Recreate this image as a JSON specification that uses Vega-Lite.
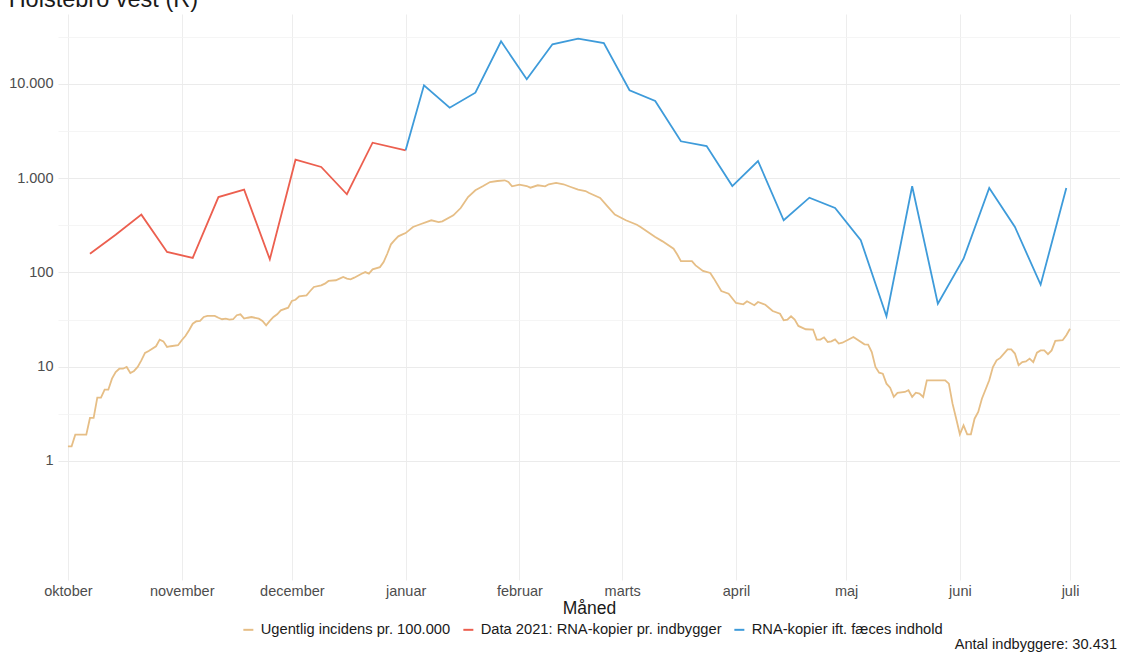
{
  "$schema": "https://vega.github.io/schema/vega-lite/v6.json",
  "autosize": {"type": "pad"},
  "padding": {"left": 8, "top": -13, "right": 0, "bottom": 0},
  "background": "white",
  "title": {"text": "Holstebro vest (R)", "anchor": "start", "frame": "bounds", "fontSize": 23.5, "font": "Liberation Sans", "fontWeight": "normal", "color": "#1A1A1A", "offset": 3},
  "config": {
    "font": "Liberation Sans",
    "view": {"stroke": null},
    "axis": {"domain": false, "ticks": false, "tickSize": 0, "labelFont": "Liberation Sans", "labelFontSize": 14.5, "labelColor": "#4D4D4D", "gridColor": "#EDEDED", "gridWidth": 1}
  },
  "datasets": {
    "inc": [
      {"d":"2021-10-01","v":1.43},{"d":"2021-10-02","v":1.43},{"d":"2021-10-03","v":1.9},{"d":"2021-10-06","v":1.9},{"d":"2021-10-07","v":2.86},{"d":"2021-10-08","v":2.86},{"d":"2021-10-09","v":4.7},{"d":"2021-10-10","v":4.7},{"d":"2021-10-11","v":5.71},{"d":"2021-10-12","v":5.71},{"d":"2021-10-13","v":7.47},{"d":"2021-10-14","v":8.8},{"d":"2021-10-15","v":9.53},{"d":"2021-10-16","v":9.53},{"d":"2021-10-17","v":9.94},{"d":"2021-10-18","v":8.58},{"d":"2021-10-19","v":9.02},{"d":"2021-10-20","v":9.94},{"d":"2021-10-21","v":11.7},{"d":"2021-10-22","v":14.0},{"d":"2021-10-23","v":14.7},{"d":"2021-10-25","v":16.5},{"d":"2021-10-26","v":19.4},{"d":"2021-10-27","v":18.6},{"d":"2021-10-28","v":16.2},{"d":"2021-10-29","v":16.5},{"d":"2021-10-31","v":16.9},
      {"d":"2021-11-01","v":19.1},{"d":"2021-11-02","v":21.2},{"d":"2021-11-03","v":24.4},{"d":"2021-11-04","v":28.6},{"d":"2021-11-05","v":30.4},{"d":"2021-11-06","v":30.6},{"d":"2021-11-07","v":33.7},{"d":"2021-11-08","v":34.6},{"d":"2021-11-10","v":34.6},{"d":"2021-11-11","v":33.1},{"d":"2021-11-12","v":31.9},{"d":"2021-11-13","v":32.4},{"d":"2021-11-14","v":31.6},{"d":"2021-11-15","v":31.9},{"d":"2021-11-16","v":35.2},{"d":"2021-11-17","v":36.0},{"d":"2021-11-18","v":32.4},{"d":"2021-11-19","v":33.1},{"d":"2021-11-20","v":33.7},{"d":"2021-11-22","v":32.4},{"d":"2021-11-23","v":30.6},{"d":"2021-11-24","v":27.5},{"d":"2021-11-25","v":30.6},{"d":"2021-11-26","v":33.7},{"d":"2021-11-27","v":36.0},{"d":"2021-11-28","v":39.7},{"d":"2021-11-30","v":42.3},
      {"d":"2021-12-01","v":49.9},{"d":"2021-12-02","v":51.4},{"d":"2021-12-03","v":55.9},{"d":"2021-12-05","v":57.3},{"d":"2021-12-06","v":63.6},{"d":"2021-12-07","v":70.2},{"d":"2021-12-09","v":73.1},{"d":"2021-12-10","v":76.1},{"d":"2021-12-11","v":81.3},{"d":"2021-12-13","v":82.7},{"d":"2021-12-14","v":86.0},{"d":"2021-12-15","v":89.6},{"d":"2021-12-16","v":86.0},{"d":"2021-12-17","v":84.7},{"d":"2021-12-18","v":88.1},{"d":"2021-12-20","v":97.1},{"d":"2021-12-21","v":101},{"d":"2021-12-22","v":97.1},{"d":"2021-12-23","v":108},{"d":"2021-12-25","v":114},{"d":"2021-12-26","v":129},{"d":"2021-12-27","v":158},{"d":"2021-12-28","v":199},{"d":"2021-12-29","v":220},{"d":"2021-12-30","v":242},{"d":"2021-12-31","v":252},
      {"d":"2022-01-01","v":262},{"d":"2022-01-03","v":304},{"d":"2022-01-05","v":325},{"d":"2022-01-08","v":358},{"d":"2022-01-10","v":343},{"d":"2022-01-11","v":349},{"d":"2022-01-14","v":404},{"d":"2022-01-16","v":483},{"d":"2022-01-18","v":632},{"d":"2022-01-20","v":745},{"d":"2022-01-22","v":822},{"d":"2022-01-24","v":912},{"d":"2022-01-26","v":935},{"d":"2022-01-28","v":951},{"d":"2022-01-29","v":912},{"d":"2022-01-30","v":822},
      {"d":"2022-02-01","v":855},{"d":"2022-02-03","v":827},{"d":"2022-02-04","v":794},{"d":"2022-02-06","v":842},{"d":"2022-02-08","v":822},{"d":"2022-02-09","v":863},{"d":"2022-02-11","v":891},{"d":"2022-02-13","v":863},{"d":"2022-02-15","v":808},{"d":"2022-02-17","v":756},{"d":"2022-02-19","v":732},{"d":"2022-02-20","v":698},{"d":"2022-02-23","v":617},{"d":"2022-02-25","v":504},{"d":"2022-02-27","v":411},
      {"d":"2022-03-02","v":358},{"d":"2022-03-05","v":321},{"d":"2022-03-06","v":304},{"d":"2022-03-08","v":269},{"d":"2022-03-10","v":238},{"d":"2022-03-12","v":214},{"d":"2022-03-15","v":179},{"d":"2022-03-16","v":155},{"d":"2022-03-17","v":132},{"d":"2022-03-20","v":132},{"d":"2022-03-21","v":119},{"d":"2022-03-23","v":104},{"d":"2022-03-25","v":98.8},{"d":"2022-03-26","v":86.0},{"d":"2022-03-28","v":63.6},{"d":"2022-03-30","v":59.6},
      {"d":"2022-04-01","v":47.5},{"d":"2022-04-03","v":46.0},{"d":"2022-04-04","v":49.5},{"d":"2022-04-06","v":44.9},{"d":"2022-04-07","v":48.6},{"d":"2022-04-09","v":45.5},{"d":"2022-04-11","v":39.0},{"d":"2022-04-13","v":36.5},{"d":"2022-04-14","v":31.1},{"d":"2022-04-15","v":31.6},{"d":"2022-04-16","v":34.3},{"d":"2022-04-17","v":31.6},{"d":"2022-04-18","v":27.1},{"d":"2022-04-20","v":25.0},{"d":"2022-04-22","v":24.8},{"d":"2022-04-23","v":19.4},{"d":"2022-04-24","v":19.4},{"d":"2022-04-25","v":20.5},{"d":"2022-04-26","v":18.3},{"d":"2022-04-27","v":18.6},{"d":"2022-04-28","v":19.5},{"d":"2022-04-29","v":17.6},{"d":"2022-04-30","v":18.0},
      {"d":"2022-05-03","v":20.7},{"d":"2022-05-06","v":17.3},{"d":"2022-05-07","v":17.2},{"d":"2022-05-08","v":14.3},{"d":"2022-05-09","v":9.94},{"d":"2022-05-10","v":8.65},{"d":"2022-05-11","v":8.44},{"d":"2022-05-12","v":6.61},{"d":"2022-05-13","v":6.0},{"d":"2022-05-14","v":4.78},{"d":"2022-05-15","v":5.27},{"d":"2022-05-17","v":5.4},{"d":"2022-05-18","v":5.63},{"d":"2022-05-19","v":4.78},{"d":"2022-05-20","v":5.31},{"d":"2022-05-21","v":5.18},{"d":"2022-05-22","v":4.78},{"d":"2022-05-23","v":7.18},{"d":"2022-05-28","v":7.18},{"d":"2022-05-29","v":6.61},{"d":"2022-05-30","v":4.06},{"d":"2022-05-31","v":2.81},
      {"d":"2022-06-01","v":1.92},{"d":"2022-06-02","v":2.39},{"d":"2022-06-03","v":1.92},{"d":"2022-06-04","v":1.92},{"d":"2022-06-05","v":2.81},{"d":"2022-06-06","v":3.31},{"d":"2022-06-07","v":4.58},{"d":"2022-06-09","v":7.18},{"d":"2022-06-10","v":9.94},{"d":"2022-06-11","v":11.7},{"d":"2022-06-12","v":12.4},{"d":"2022-06-14","v":15.3},{"d":"2022-06-15","v":15.3},{"d":"2022-06-16","v":13.8},{"d":"2022-06-17","v":10.4},{"d":"2022-06-18","v":11.2},{"d":"2022-06-19","v":11.4},{"d":"2022-06-20","v":12.2},{"d":"2022-06-21","v":11.2},{"d":"2022-06-22","v":14.1},{"d":"2022-06-23","v":14.9},{"d":"2022-06-24","v":14.9},{"d":"2022-06-25","v":13.6},{"d":"2022-06-26","v":14.9},{"d":"2022-06-27","v":18.8},{"d":"2022-06-29","v":19.1},{"d":"2022-06-30","v":21.6},{"d":"2022-07-01","v":25.3}
    ],
    "rna2021": [
      {"d":"2021-10-07","v":158},{"d":"2021-10-14","v":252},{"d":"2021-10-21","v":411},{"d":"2021-10-28","v":165},{"d":"2021-11-04","v":143},{"d":"2021-11-11","v":632},{"d":"2021-11-18","v":756},{"d":"2021-11-25","v":138},{"d":"2021-12-02","v":1574},{"d":"2021-12-09","v":1316},{"d":"2021-12-16","v":676},{"d":"2021-12-23","v":2384},{"d":"2022-01-01","v":1980}
    ],
    "rnafaeces": [
      {"d":"2022-01-01","v":1980},{"d":"2022-01-06","v":9690},{"d":"2022-01-13","v":5606},{"d":"2022-01-20","v":8085},{"d":"2022-01-27","v":28400},{"d":"2022-02-03","v":11220},{"d":"2022-02-10","v":26380},{"d":"2022-02-17","v":30250},{"d":"2022-02-24","v":27230},{"d":"2022-03-03","v":8576},{"d":"2022-03-10","v":6600},{"d":"2022-03-17","v":2466},{"d":"2022-03-24","v":2199},{"d":"2022-03-31","v":827},{"d":"2022-04-07","v":1524},{"d":"2022-04-14","v":358},{"d":"2022-04-21","v":622},{"d":"2022-04-28","v":483},{"d":"2022-05-05","v":220},{"d":"2022-05-12","v":34.3},{"d":"2022-05-19","v":822},{"d":"2022-05-26","v":46.7},{"d":"2022-06-02","v":140},{"d":"2022-06-09","v":788},{"d":"2022-06-16","v":304},{"d":"2022-06-23","v":74.3},{"d":"2022-06-30","v":788}
    ]
  },
  "vconcat": [
    {
      "width": 1062,
      "height": 566,
      "title": {"text": "Antal indbyggere: 30.431", "orient": "bottom", "anchor": "end", "fontSize": 14.6, "fontWeight": "normal", "font": "Liberation Sans", "color": "#1A1A1A", "offset": 20, "dx": -3},
      "layer": [
        {
          "mark": {"type": "rule", "color": "#A6A6A6", "strokeWidth": 1.5},
          "encoding": {"x": {"datum": {"year": 2022, "month": 1, "date": 1, "utc": true}, "type": "temporal"}}
        },
        {
          "data": {"name": "inc"},
          "mark": {"type": "line", "strokeWidth": 1.8, "interpolate": "linear"},
          "encoding": {
            "x": {"field": "d", "type": "temporal",
              "scale": {"type": "utc", "domain": [{"year": 2021, "month": 9, "date": 28, "hours": 7, "utc": true}, {"year": 2022, "month": 7, "date": 14, "hours": 15, "utc": true}], "nice": false},
              "axis": {"title": "Måned", "titleFont": "Liberation Sans", "titleFontSize": 17.5, "titleFontWeight": "normal", "titleColor": "#1A1A1A", "titlePadding": 2, "labelPadding": 4, "grid": true,
                "values": [{"year": 2021, "month": 10, "date": 1, "utc": true}, {"year": 2021, "month": 11, "date": 1, "utc": true}, {"year": 2021, "month": 12, "date": 1, "utc": true}, {"year": 2022, "month": 1, "date": 1, "utc": true}, {"year": 2022, "month": 2, "date": 1, "utc": true}, {"year": 2022, "month": 3, "date": 1, "utc": true}, {"year": 2022, "month": 4, "date": 1, "utc": true}, {"year": 2022, "month": 5, "date": 1, "utc": true}, {"year": 2022, "month": 6, "date": 1, "utc": true}, {"year": 2022, "month": 7, "date": 1, "utc": true}],
                "labelExpr": "['januar','februar','marts','april','maj','juni','juli','august','september','oktober','november','december'][utcmonth(datum.value)]"}},
            "y": {"field": "v", "type": "quantitative",
              "scale": {"type": "log", "domain": [0.0546, 55300], "nice": false},
              "axis": {"title": null, "labelPadding": 5, "grid": true,
                "values": [1, 3.1623, 10, 31.623, 100, 316.23, 1000, 3162.3, 10000, 31623],
                "labelExpr": "indexof([1,10,100,1000,10000], datum.value) >= 0 ? replace(format(datum.value, ','), ',', '.') : ''",
                "gridColor": {"condition": {"test": "indexof([1,10,100,1000,10000], datum.value) >= 0", "value": "#EBEBEB"}, "value": "#F3F3F3"},
                "gridWidth": {"condition": {"test": "indexof([1,10,100,1000,10000], datum.value) >= 0", "value": 1}, "value": 0.8}}},
            "color": {"datum": "Ugentlig incidens pr. 100.000", "type": "nominal",
              "scale": {"domain": ["Ugentlig incidens pr. 100.000", "Data 2021: RNA-kopier pr. indbygger", "RNA-kopier ift. fæces indhold"], "range": ["#E6BE86", "#EC5F4F", "#3E9BDA"]},
              "legend": {"title": null, "orient": "none", "direction": "horizontal", "legendX": 183, "legendY": 608, "symbolType": "stroke", "symbolSize": 100, "symbolStrokeWidth": 2, "labelFont": "Liberation Sans", "labelFontSize": 14.7, "labelColor": "#1A1A1A", "labelOffset": 5, "labelLimit": 0, "columnPadding": 8}}
          }
        },
        {
          "data": {"name": "rna2021"},
          "mark": {"type": "line", "strokeWidth": 1.8},
          "encoding": {
            "x": {"field": "d", "type": "temporal"},
            "y": {"field": "v", "type": "quantitative"},
            "color": {"datum": "Data 2021: RNA-kopier pr. indbygger", "type": "nominal"}
          }
        },
        {
          "data": {"name": "rnafaeces"},
          "mark": {"type": "line", "strokeWidth": 1.8},
          "encoding": {
            "x": {"field": "d", "type": "temporal"},
            "y": {"field": "v", "type": "quantitative"},
            "color": {"datum": "RNA-kopier ift. fæces indhold", "type": "nominal"}
          }
        }
      ]
    }
  ]
}
